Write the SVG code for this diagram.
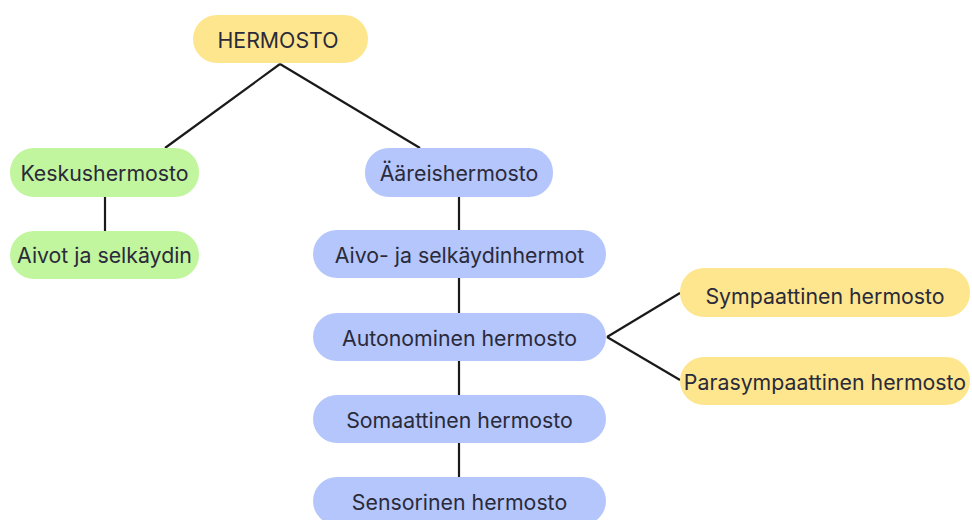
<svg xmlns="http://www.w3.org/2000/svg" width="972" height="520" viewBox="0 0 972 520">
<style>
.y{fill:#fde68d}.g{fill:#c1f59e}.b{fill:#b4c6fc}
text{font-family:Inter,"Noto Sans",sans-serif;font-size:21.3px;fill:#2a2a3a;text-anchor:middle;dominant-baseline:central}
.c{stroke:#1a1a1a;stroke-width:2.2;fill:none}
</style>
<rect width="972" height="520" fill="#fff"/>
<g id="connectors">
<path class="c" d="M280,64 L165,148"/>
<path class="c" d="M280,64 L420,148"/>
<path class="c" d="M105,197 L105,231"/>
<path class="c" d="M459,197 L459,230"/>
<path class="c" d="M459,278 L459,313"/>
<path class="c" d="M459,361 L459,395"/>
<path class="c" d="M459,443 L459,477"/>
<path class="c" d="M607,337 L680,293"/>
<path class="c" d="M607,337 L680,380"/>
</g>
<g id="hermosto"><rect class="y" x="193" y="15" width="175" height="48" rx="24"/><text x="278" y="40">HERMOSTO</text></g>
<g id="keskushermosto"><rect class="g" x="10" y="148" width="189" height="49" rx="24"/><text x="104.5" y="173">Keskushermosto</text></g>
<g id="aivot"><rect class="g" x="10" y="231" width="189" height="48" rx="24"/><text x="104.5" y="255">Aivot ja selkäydin</text></g>
<g id="aareishermosto"><rect class="b" x="365" y="148" width="188" height="49" rx="24"/><text x="459" y="173">Ääreishermosto</text></g>
<g id="aivohermot"><rect class="b" x="313" y="230" width="293" height="48" rx="24"/><text x="459.5" y="255">Aivo- ja selkäydinhermot</text></g>
<g id="autonominen"><rect class="b" x="313" y="313" width="293" height="48" rx="24"/><text x="459.5" y="338">Autonominen hermosto</text></g>
<g id="somaattinen"><rect class="b" x="313" y="395" width="293" height="48" rx="24"/><text x="459.5" y="420">Somaattinen hermosto</text></g>
<g id="sensorinen"><rect class="b" x="313" y="477" width="293" height="48" rx="24"/><text x="459.5" y="502">Sensorinen hermosto</text></g>
<g id="sympaattinen"><rect class="y" x="680" y="268" width="290" height="49" rx="24"/><text x="825" y="296">Sympaattinen hermosto</text></g>
<g id="parasympaattinen"><rect class="y" x="680" y="357" width="290" height="48" rx="24"/><text x="825" y="382">Parasympaattinen hermosto</text></g>
</svg>
